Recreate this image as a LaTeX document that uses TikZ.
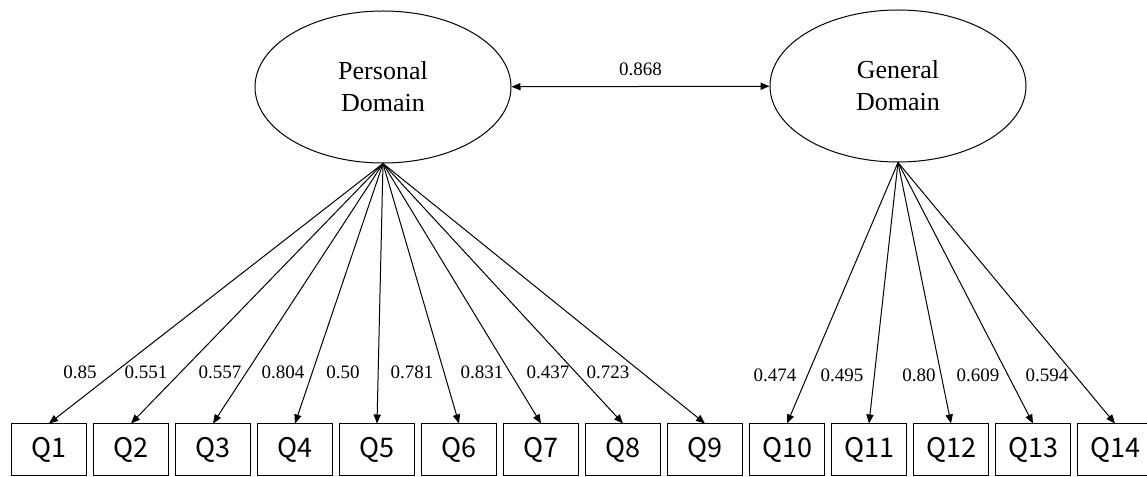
\documentclass[tikz,border=0pt]{standalone}
\usepackage{fontspec}
\setmainfont{Liberation Serif}
\newfontfamily\qfont{Noto Sans CJK JP}
\usetikzlibrary{shapes.geometric,arrows.meta}
\tikzset{
    EL/.style ={ellipse,minimum width = 128pt, minimum height = 76pt, draw, align=center, font=\fontsize{13}{16}\selectfont},
    RB/.style ={rectangle,minimum width = 37.5pt, minimum height = 26pt, draw, font=\qfont\fontsize{13.5}{16}\selectfont},
    LD/.style ={font=\fontsize{9.5}{11}\selectfont, inner sep=0pt},
    AR/.style ={-{Triangle[length=4.5pt,width=3.6pt]}}}

\begin{document}
\begin{tikzpicture}[x=0.5pt,y=0.5pt,line width=0.5pt]
        \useasboundingbox (0,0) rectangle (1147,477);
        % factors
        \node[EL] (PD) at (383,390){Personal\\Domain};
        \node[EL] (GD) at (898,391){General\\Domain};
        \draw[{Triangle[length=4.5pt,width=3.6pt]}-{Triangle[length=4.5pt,width=3.6pt]}] (PD) --(GD) node[midway,above=2pt]{\fontsize{9.5}{11}\selectfont 0.868};
        % items
        \node[RB] (Q1) at (49,27){Q1};
        \node[RB] (Q2) at (131,27){Q2};
        \node[RB] (Q3) at (213,27){Q3};
        \node[RB] (Q4) at (295,27){Q4};
        \node[RB] (Q5) at (377,27){Q5};
        \node[RB] (Q6) at (459,27){Q6};
        \node[RB] (Q7) at (541,27){Q7};
        \node[RB] (Q8) at (623,27){Q8};
        \node[RB] (Q9) at (705,27){Q9};
        \node[RB] (Q10) at (787,27){Q10};
        \node[RB] (Q11) at (869,27){Q11};
        \node[RB] (Q12) at (951,27){Q12};
        \node[RB] (Q13) at (1033,27){Q13};
        \node[RB] (Q14) at (1115,27){Q14};
        % loadings
        \draw[AR] (PD.south) --(Q1.north);
        \draw[AR] (PD.south) --(Q2.north);
        \draw[AR] (PD.south) --(Q3.north);
        \draw[AR] (PD.south) --(Q4.north);
        \draw[AR] (PD.south) --(Q5.north);
        \draw[AR] (PD.south) --(Q6.north);
        \draw[AR] (PD.south) --(Q7.north);
        \draw[AR] (PD.south) --(Q8.north);
        \draw[AR] (PD.south) --(Q9.north);
        \draw[AR] (GD.south) --(Q10.north);
        \draw[AR] (GD.south) --(Q11.north);
        \draw[AR] (GD.south) --(Q12.north);
        \draw[AR] (GD.south) --(Q13.north);
        \draw[AR] (GD.south) --(Q14.north);
        \node[LD] (L1) at (80,105){0.85};
        \node[LD] (L2) at (146,105){0.551};
        \node[LD] (L3) at (220,105){0.557};
        \node[LD] (L4) at (283,105){0.804};
        \node[LD] (L5) at (343,105){0.50};
        \node[LD] (L6) at (412,105){0.781};
        \node[LD] (L7) at (482,105){0.831};
        \node[LD] (L8) at (548,105){0.437};
        \node[LD] (L9) at (608,105){0.723};
        \node[LD] (L10) at (775,102){0.474};
        \node[LD] (L11) at (842,102){0.495};
        \node[LD] (L12) at (919,102){0.80};
        \node[LD] (L13) at (978,102){0.609};
        \node[LD] (L14) at (1047,102){0.594};
    \end{tikzpicture}
\end{document}
